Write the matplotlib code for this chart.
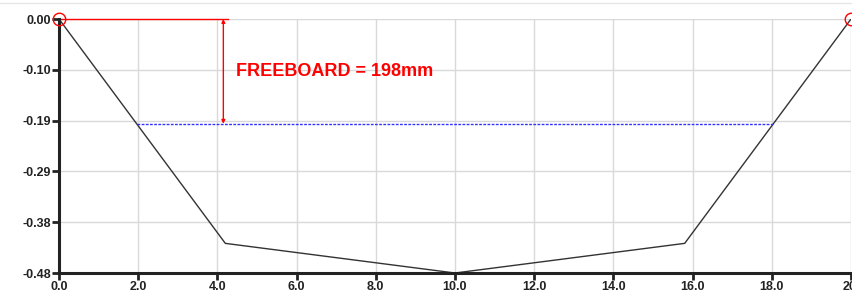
import matplotlib
matplotlib.use("Agg")
import matplotlib.pyplot as plt
from matplotlib.lines import Line2D

# Data
profile_x = [0.0, 4.2, 10.0, 15.8, 20.0]
profile_y = [0.0, -0.424, -0.48, -0.424, 0.0]
freeboard_level = -0.198
freeboard_x = [1.96, 18.04]
top_line_x = [0.0, 4.28]
arrow_x = 4.15
marker_x = [0.0, 20.0]
marker_y = [0.0, 0.0]
x_ticks = [0, 2, 4, 6, 8, 10, 12, 14, 16, 18, 20]
x_labels = ["0.0", "2.0", "4.0", "6.0", "8.0", "10.0", "12.0", "14.0", "16.0", "18.0", "20."]
y_ticks = [0.0, -0.096, -0.192, -0.288, -0.384, -0.48]
y_labels = ["0.00", "-0.10", "-0.19", "-0.29", "-0.38", "-0.48"]
label_text = "FREEBOARD = 198mm"

plt.rcParams['font.family'] = ['Liberation Sans', 'DejaVu Sans']

fig = plt.figure(figsize=(8.53, 2.95), dpi=100)
ax = fig.add_axes([59/853, 1-273/295, (851-59)/853, (273-19)/295])

ax.set_xlim(0, 20)
ax.set_ylim(-0.48, 0.0)
ax.set_xticks(x_ticks)
ax.set_xticklabels(x_labels, fontsize=9, fontweight='bold', color='#222222')
ax.set_yticks(y_ticks)
ax.set_yticklabels(y_labels, fontsize=9, fontweight='bold', color='#222222')
ax.grid(True, color='#d9d9d9', linewidth=1)
ax.set_axisbelow(True)
for s in ['top', 'right']:
    ax.spines[s].set_visible(False)
for s in ['left', 'bottom']:
    ax.spines[s].set_linewidth(2.2)
    ax.spines[s].set_color('#222222')
    ax.spines[s].set_zorder(5)
ax.tick_params(axis='both', length=5, width=2, color='#222222', pad=1)

ax.plot(profile_x, profile_y, color='#333333', linewidth=1.0, zorder=3)
ax.plot(freeboard_x, [freeboard_level, freeboard_level], color='#3333ff',
        linestyle=(0, (2, 1)), linewidth=1.0, zorder=3)
ax.plot(top_line_x, [0.0, 0.0], color='red', linewidth=1.0, zorder=4, clip_on=False)
ax.annotate('', xy=(arrow_x, freeboard_level), xytext=(arrow_x, 0.0),
            arrowprops=dict(arrowstyle='<|-|>', color='red', lw=1.0,
                            mutation_scale=5, shrinkA=0, shrinkB=0), zorder=4)
ax.text(4.47, -0.10, label_text, color='red', fontsize=13, fontweight='bold',
        va='center', ha='left', zorder=4)
ax.plot(marker_x, marker_y, linestyle='none', marker='o', markersize=9,
        markerfacecolor='none', markeredgecolor='red', markeredgewidth=1.0,
        clip_on=False, zorder=6)

fig.add_artist(Line2D([0, 1], [1-2.5/295, 1-2.5/295], color='#e6e6e6', linewidth=1))

fig.savefig('out.png', dpi=100)
